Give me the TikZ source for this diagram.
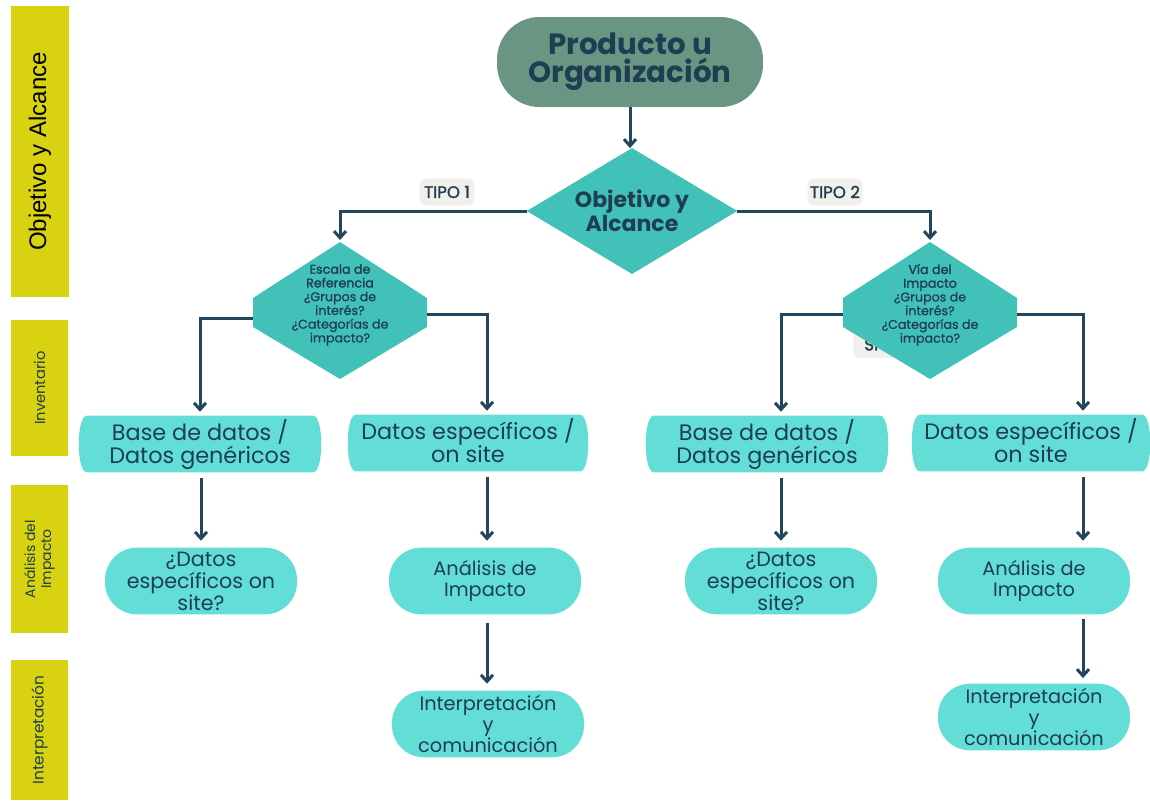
\documentclass[tikz,border=0pt]{standalone}
\usepackage{fontspec}
\setmainfont{Poppins}
\newfontfamily\arialfont{Liberation Sans}
\newfontfamily\popmed[FakeBold=0.6]{Poppins}
\newfontfamily\popsemi[FakeBold=1.6]{Poppins}
\usetikzlibrary{arrows.meta,calc,backgrounds}

\definecolor{bandyellow}{RGB}{216,210,16}
\definecolor{topgreen}{RGB}{106,149,131}
\definecolor{hexteal}{RGB}{66,193,185}
\definecolor{boxteal}{RGB}{98,222,214}
\definecolor{ink}{RGB}{30,62,82}
\definecolor{wire}{RGB}{34,71,92}
\definecolor{taggray}{RGB}{240,239,234}

% barrel-shaped box: flat top and bottom, bulging sides
\newcommand\barrelfill[1]{%
  \fill[boxteal] (#1.north west) -- (#1.north east)
    .. controls ([xshift=8pt]#1.north east) and ([xshift=8pt]#1.south east) .. (#1.south east)
    -- (#1.south west)
    .. controls ([xshift=-8pt]#1.south west) and ([xshift=-8pt]#1.north west) .. (#1.north west)
    -- cycle;}
% six-sided decision shape around a text node; also names its top corner
\newcommand\hexfill[1]{%
  \coordinate (#1-top) at ($(#1)+(0,-63)$);
  \fill[hexteal] (#1-top) -- ($(#1)+(87,-7)$) -- ($(#1)+(87,22)$)
    -- ($(#1)+(0,74)$) -- ($(#1)+(-87,22)$) -- ($(#1)+(-87,-7)$) -- cycle;}

\begin{document}
\begin{tikzpicture}[x=0.75pt,y=-0.75pt,
  band/.style={fill=bandyellow,rotate=90,inner sep=0pt,minimum height=43pt,align=center,text=ink,
    font=\fontsize{11}{12.5}\selectfont},
  topbox/.style={fill=topgreen,rounded corners=32pt,minimum width=199.5pt,minimum height=67.5pt,
    inner sep=0pt,align=center,text=ink,font=\bfseries\fontsize{22}{21}\selectfont},
  hexbox/.style={minimum width=130.5pt,minimum height=80pt,inner sep=0pt,align=center,text=ink,
    font=\popmed\fontsize{9.5}{10.3}\selectfont},
  barrel/.style={minimum width=#1,minimum height=42pt,inner sep=0pt,align=center,text=ink,
    font=\fontsize{16.75}{17.25}\selectfont},
  pill/.style={fill=boxteal,rounded corners=24pt,minimum width=144pt,minimum height=50pt,
    inner sep=0pt,align=center,text=ink},
  tag/.style={fill=taggray,rounded corners=4pt,minimum width=41pt,minimum height=20pt,inner sep=0pt,
    text=ink,font=\popsemi\fontsize{12.5}{14}\selectfont},
  link/.style={draw=wire,line width=2.25pt},
  arrow/.style={link,-{Straight Barb[length=5pt,width=9pt]}}
]
\useasboundingbox (0,0) rectangle (1150,803);

% stage bands on the left
\node[band,minimum width=218pt,text=black,font=\arialfont\fontsize{18}{20}\selectfont] (s1) at (40,151.5) {Objetivo y Alcance};
\node[band,minimum width=102pt] (s2) at (39.5,388) {Inventario};
\node[band,minimum width=111pt,font=\fontsize{10.5}{12}\selectfont] (s3) at (39.5,559) {Análisis del\\Impacto};
\node[band,minimum width=105pt,font=\fontsize{11.5}{13}\selectfont] (s4) at (39.5,730) {Interpretación};

% top of the flow
\node[topbox] (prod) at (630,62) {Producto u\\Organización};
\node[minimum width=157.5pt,minimum height=94pt,inner sep=0pt,align=center,text=ink,
  font=\bfseries\fontsize{16.5}{18}\selectfont] (obj) at (632,211) {Objetivo y\\Alcance};

% second level decisions
\node[hexbox] (h1) at (340,305) {{\popsemi Escala de}\\{\popsemi Referencia}\\¿Grupos de\\interés?\\¿Categorías de\\impacto?};
\node[hexbox] (h2) at (930,305) {{\popsemi Vía del}\\{\popsemi Impacto}\\¿Grupos de\\interés?\\¿Categorías de\\impacto?};

% inventory level
\node[barrel=169.5pt] (b1) at (200,444) {Base de datos /\\Datos genéricos};
\node[barrel=168pt] (b2) at (468,443) {Datos específicos /\\on site\vphantom{g}};
\node[barrel=169.5pt] (b3) at (767,444) {Base de datos /\\Datos genéricos};
\node[barrel=166.5pt] (b4) at (1031,443) {Datos específicos /\\on site\vphantom{g}};

% impact analysis level
\node[pill,font=\fontsize{15.5}{16.5}\selectfont] (a1) at (201,581) {¿Datos\\específicos on\\site?};
\node[pill,font=\fontsize{14.5}{15.5}\selectfont] (a2) at (485,581) {Análisis de\\Impacto};
\node[pill,font=\fontsize{15.5}{16.5}\selectfont] (a3) at (781,581) {¿Datos\\específicos on\\site?};
\node[pill,font=\fontsize{14.5}{15.5}\selectfont] (a4) at (1034,581) {Análisis de\\Impacto};

% interpretation level
\node[pill,font=\fontsize{14.5}{15.75}\selectfont] (c2) at (488,724) {Interpretación\\y\\comunicación};
\node[pill,font=\fontsize{14.5}{15.75}\selectfont] (c4) at (1034,717) {Interpretación\\y\\comunicación};

\coordinate (x2) at (487,0);
\coordinate (x4) at (1083,0);

% shapes behind the texts
\begin{scope}[on background layer]
  \fill[hexteal] (obj.north) -- (obj.east) -- (obj.south) -- (obj.west) -- cycle;
  \node[tag,anchor=north west] (si) at (853,331) {\hspace*{-14pt}SI};
  \hexfill{h1}
  \hexfill{h2}
  \barrelfill{b1}
  \barrelfill{b2}
  \barrelfill{b3}
  \barrelfill{b4}
\end{scope}

% branch labels
\node[tag] (t1) at (447,192) {TIPO 1};
\node[tag] (t2) at (835,192) {TIPO 2};

% connectors
\draw[arrow] (prod.south) -- (prod.south |- obj.north);
\draw[arrow,shorten >=1.5pt] (obj.west) -| (h1-top);
\draw[arrow,shorten >=1.5pt] (obj.east) -| (h2-top);

\draw[arrow,shorten >=3pt] ([yshift=-10pt]h1.west) -| (b1.north);
\draw[arrow,shorten >=3pt] ([yshift=-6.75pt]h1.east) -| (b2.north -| x2);
\draw[arrow,shorten >=3pt] ([yshift=-6.75pt]h2.west) -| (b3.north -| a3.north);
\draw[arrow,shorten >=3pt] ([yshift=-6.75pt]h2.east) -| (b4.north -| x4);

\draw[arrow,shorten <=4pt,shorten >=5pt] (b1.south -| a1.north) -- (a1.north);
\draw[arrow,shorten <=4pt,shorten >=5pt] (b2.south -| x2) -- (a2.north -| x2);
\draw[arrow,shorten <=4pt,shorten >=5pt] (b3.south -| a3.north) -- (a3.north);
\draw[arrow,shorten <=4pt,shorten >=5pt] (b4.south -| x4) -- (a4.north -| x4);

\draw[arrow,shorten <=6pt,shorten >=5pt] (a2.south -| x2) -- (c2.north -| x2);
\draw[arrow,shorten <=3pt,shorten >=4pt] (a4.south -| x4) -- (c4.north -| x4);
\end{tikzpicture}
\end{document}
